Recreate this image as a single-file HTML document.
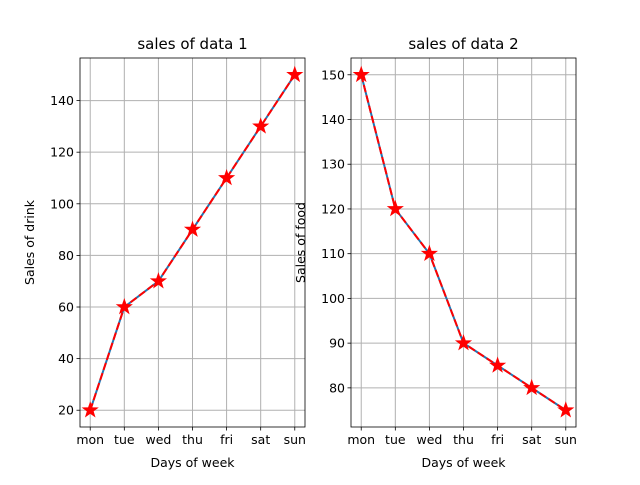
<!DOCTYPE html>
<html><head><meta charset="utf-8"><style>
body{margin:0;background:#fff}
svg{font-family:"DejaVu Sans","Liberation Sans",sans-serif}
</style></head><body>
<svg id="c" width="640" height="480" xmlns="http://www.w3.org/2000/svg"></svg>
<script>
const days = ["mon","tue","wed","thu","fri","sat","sun"];
const drink = [20,60,70,90,110,130,150];
const food = [150,120,110,90,85,80,75];
const drinkTicks = [20,40,60,80,100,120,140];
const foodTicks = [80,90,100,110,120,130,140,150];
const NS="http://www.w3.org/2000/svg";
const svg=document.getElementById('c');
function mk(t,a,p){const e=document.createElementNS(NS,t);for(const k in a)e.setAttribute(k,a[k]);(p||svg).appendChild(e);return e;}
function star(cx,cy,r){let pts=[];for(let i=0;i<10;i++){const rr=i%2?r*0.4:r;const a=-Math.PI/2+i*Math.PI/5;pts.push((cx+rr*Math.cos(a)).toFixed(2)+','+(cy+rr*Math.sin(a)).toFixed(2));}return pts.join(' ');}
function panel(L,R,T,B,vals,ticks,title,ylab,name){
  const g=mk('g',{});  
  const mn=Math.min(...vals),mx=Math.max(...vals),m=(mx-mn)*0.05;
  const y0=mn-m,y1=mx+m;
  const X=i=>L+(i+0.3)/(days.length-1+0.6)*(R-L);
  const Y=v=>B-(v-y0)/(y1-y0)*(B-T);
  days.forEach((d,i)=>{const x=X(i);
    const gl=mk('line',{x1:x,x2:x,y1:T,y2:B,stroke:'#b0b0b0','stroke-width':1},g);
    mk('line',{x1:x,x2:x,y1:B,y2:B+3.5,stroke:'#000','stroke-width':0.8},g);
    const t=mk('text',{x:x,y:B+17,'font-size':12.5,'text-anchor':'middle'},g);t.textContent=d;});
  ticks.forEach(v=>{const y=Y(v);
    const gl=mk('line',{x1:L,x2:R,y1:y,y2:y,stroke:'#b0b0b0','stroke-width':1},g);
    mk('line',{x1:L-3.5,x2:L,y1:y,y2:y,stroke:'#000','stroke-width':0.8},g);
    const t=mk('text',{x:L-6,y:y+4.5,'font-size':12.5,'text-anchor':'end'},g);t.textContent=v;});
  const pts=vals.map((v,i)=>X(i)+','+Y(v)).join(' ');
  const l1=mk('polyline',{points:pts,fill:'none',stroke:'#1f77b4','stroke-width':2},g);
  const l2=mk('polyline',{points:pts,fill:'none',stroke:'#ff0000','stroke-width':2,'stroke-dasharray':'7.4,3.2'},g);
  vals.forEach((v,i)=>{const s=mk('polygon',{points:star(X(i),Y(v),7.5),fill:'#ff0000',stroke:'#ff0000','stroke-width':1},g);});
  const f=mk('rect',{x:L,y:T,width:R-L,height:B-T,fill:'none',stroke:'#000','stroke-width':0.8},g);
  const tt=mk('text',{x:(L+R)/2,y:T-9,'font-size':15,'text-anchor':'middle'},g);tt.textContent=title;
  const xl=mk('text',{x:(L+R)/2,y:B+40,'font-size':12.5,'text-anchor':'middle'},g);xl.textContent='Days of week';
  const cx=L-46,cy=(T+B)/2;
  const yl=mk('text',{x:cx,y:cy,'font-size':12.5,'text-anchor':'middle',transform:`rotate(-90 ${cx} ${cy})`},g);yl.textContent=ylab;
}
panel(80,305,58,427,drink,drinkTicks,'sales of data 1','Sales of drink','left-panel');
panel(351,576,58,427,food,foodTicks,'sales of data 2','Sales of food','right-panel');
</script>
</body></html>
